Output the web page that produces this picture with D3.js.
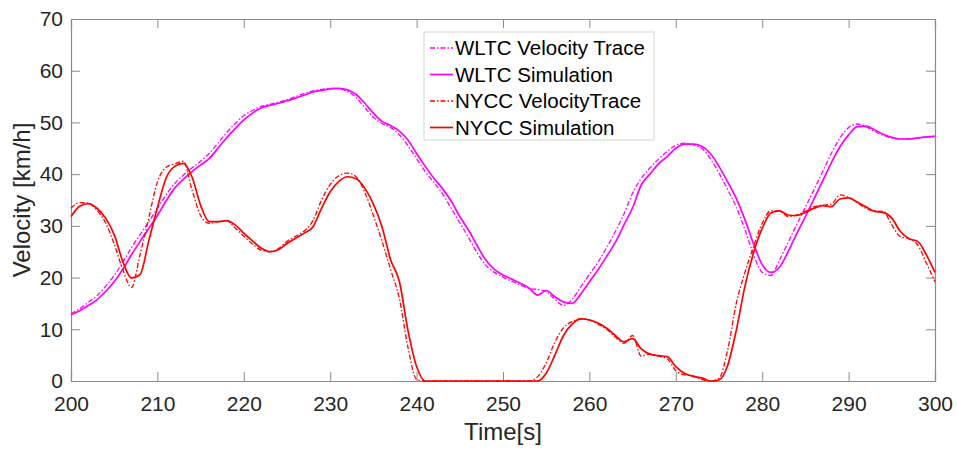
<!DOCTYPE html>
<html lang="en">
<head>
<meta charset="utf-8">
<script src="https://cdnjs.cloudflare.com/ajax/libs/d3/7.8.5/d3.min.js"></script>
<style>
  body { margin: 0; background: #ffffff; }
  svg { font-family: "Liberation Sans", Arial, sans-serif; }
</style>
</head>
<body>
<svg id="chart"></svg>
<script>
// time axis, one sample per second
var tStart = 200, tEnd = 300;
var xTicks = [200, 210, 220, 230, 240, 250, 260, 270, 280, 290, 300];
var yTicks = [0, 10, 20, 30, 40, 50, 60, 70];

// velocities in km/h, t = 200..300
var wltcTrace = [13.0,14.0,15.2,16.5,18.3,20.4,23.0,25.8,28.3,30.8,
  33.4,36.0,38.2,39.8,41.2,42.5,44.0,46.0,48.0,49.8,
  51.3,52.3,53.1,53.5,53.9,54.4,55.0,55.6,56.1,56.4,
  56.6,56.5,56.0,54.8,52.9,51.0,49.8,49.0,47.6,45.5,
  43.0,40.5,38.4,36.2,33.4,30.6,27.8,24.8,22.4,21.0,
  20.1,19.3,18.6,17.9,17.7,17.3,15.8,14.6,15.8,18.2,
  20.6,23.0,25.8,28.9,32.3,36.3,39.2,41.2,42.9,44.4,
  45.6,46.0,45.7,45.0,43.0,40.2,37.0,33.6,29.3,24.4,
  21.0,20.4,23.4,26.8,30.3,33.6,37.0,40.5,44.0,47.0,
  49.0,49.7,49.2,48.3,47.5,47.0,46.8,46.8,47.0,47.2,47.3];

var wltcSim = [12.8,13.6,14.6,15.7,17.3,19.2,21.6,24.4,27.0,29.5,
  32.0,34.8,37.3,39.0,40.5,41.8,43.0,45.0,47.0,48.8,
  50.5,51.8,52.8,53.3,53.7,54.2,54.7,55.3,55.9,56.2,
  56.5,56.6,56.3,55.4,53.7,51.8,50.2,49.4,48.3,46.6,
  44.0,41.5,39.2,37.2,34.8,31.8,29.2,26.2,23.4,21.6,
  20.5,19.7,18.9,18.0,16.6,17.5,16.3,15.3,15.0,16.8,
  19.2,21.5,24.1,26.8,30.2,33.5,37.9,40.0,42.0,43.4,
  45.0,45.8,45.8,45.4,44.0,41.5,38.5,35.3,31.2,26.5,
  22.5,21.0,22.0,25.0,28.5,31.8,35.2,38.7,42.2,45.3,
  47.6,49.2,49.3,48.6,47.7,47.1,46.8,46.8,47.0,47.2,47.3];

var nyccTrace = [33.4,34.5,34.4,33.0,30.6,26.5,21.5,18.1,24.5,31.5,
  38.5,41.3,42.0,42.5,37.0,32.0,30.5,30.8,31.0,29.6,
  28.0,26.5,25.3,25.0,25.6,27.0,28.0,29.0,31.0,35.0,
  38.0,39.7,40.2,39.5,36.5,32.0,27.0,21.5,16.0,6.5,
  0.3,0,0,0,0,0,0,0,0,0,
  0,0,0,0,0.8,3.5,7.5,10.3,11.5,12.0,
  11.8,11.0,10.0,8.5,7.3,8.8,4.8,5.2,4.8,4.3,
  2.0,1.2,1.0,0.3,0,0.5,6.0,15.0,21.0,26.0,
  30.5,32.9,32.9,31.8,32.1,32.8,33.7,34.0,34.2,36.0,
  35.5,34.5,33.4,32.9,32.8,30.2,27.9,27.5,26.3,22.8,19.2];

var nyccSim = [31.8,33.8,34.3,33.4,31.5,28.3,23.1,19.9,20.6,27.1,
  33.5,39.2,41.5,42.1,39.5,34.0,30.8,30.8,31.0,30.2,
  28.6,27.1,25.7,25.0,25.4,26.6,27.6,28.6,29.8,33.4,
  36.6,38.6,39.5,39.1,37.3,34.2,29.8,23.4,19.3,9.8,
  2.8,0,0,0,0,0,0,0,0,0,
  0,0,0,0,0,1.5,5.0,8.8,11.0,12.0,
  11.8,11.2,10.2,8.8,7.6,8.2,6.2,5.2,4.9,4.7,
  2.8,1.5,0.9,0.6,0,0.2,3.0,9.8,18.3,24.8,
  29.5,32.5,32.9,32.1,32.0,32.6,33.4,33.9,33.7,35.2,
  35.4,34.6,33.7,32.8,32.6,31.5,28.9,27.5,27.0,24.4,21.0];

var seriesNames = ["WLTC Velocity Trace", "WLTC Simulation", "NYCC VelocityTrace", "NYCC Simulation"];
var seriesData = [wltcTrace, wltcSim, nyccTrace, nyccSim];
var seriesColor = ["#ff00ff", "#ff00ff", "#ff0000", "#ff0000"];
var seriesDash = ["5,2,1.5,2", null, "5,2,1.5,2", null];

var width = 957, height = 450;
var margin = {left: 71, right: 22, top: 19, bottom: 69};

var svg = d3.select("#chart")
  .attr("width", width)
  .attr("height", height);

var x = d3.scaleLinear().domain([tStart, tEnd]).range([margin.left, width - margin.right]);
var y = d3.scaleLinear().domain([0, 70]).range([height - margin.bottom, margin.top]);

var time = d3.range(tStart, tEnd + 1);
var axisColor = "#8a8a8a";
var textColor = "#262626";
var tickLen = 9;

// axes (matlab style: ticks inside, box all around)
var xAxis = svg.append("g")
  .attr("transform", "translate(0," + y(0) + ")")
  .call(d3.axisBottom(x).tickValues(xTicks).tickSize(-tickLen).tickPadding(18).tickFormat(d3.format("d")));
var xTop = svg.append("g")
  .attr("transform", "translate(0," + y(70) + ")")
  .call(d3.axisTop(x).tickValues(xTicks).tickSize(-tickLen).tickFormat(""));
var yAxis = svg.append("g")
  .attr("transform", "translate(" + x(tStart) + ",0)")
  .call(d3.axisLeft(y).tickValues(yTicks).tickSize(-tickLen).tickPadding(8).tickFormat(d3.format("d")));
var yRight = svg.append("g")
  .attr("transform", "translate(" + x(tEnd) + ",0)")
  .call(d3.axisRight(y).tickValues(yTicks).tickSize(-tickLen).tickFormat(""));

[xAxis, xTop, yAxis, yRight].forEach(function(g) {
  g.select(".domain").attr("stroke", axisColor).attr("stroke-width", 1.2);
  g.selectAll(".tick line").attr("stroke", axisColor).attr("stroke-width", 1);
  g.selectAll(".tick text").attr("fill", textColor).style("font-size", "21px")
    .style("font-family", "'Liberation Sans', Arial, sans-serif");
});
xAxis.selectAll(".tick text").attr("dy", "0.55em");

// lines
var line = d3.line()
  .x(function(d, i) { return x(time[i]); })
  .y(function(d) { return y(d); })
  .curve(d3.curveMonotoneX);

seriesData.forEach(function(s, k) {
  svg.append("path")
    .datum(s)
    .attr("fill", "none")
    .attr("stroke", seriesColor[k])
    .attr("stroke-width", seriesDash[k] ? 1.3 : 1.7)
    .attr("stroke-dasharray", seriesDash[k])
    .attr("d", line);
});

// axis labels
svg.append("text")
  .attr("x", (x(tStart) + x(tEnd)) / 2)
  .attr("y", 440)
  .attr("text-anchor", "middle")
  .attr("fill", textColor)
  .style("font-size", "24px")
  .text("Time[s]");

svg.append("text")
  .attr("transform", "translate(30," + ((y(0) + y(70)) / 2) + ") rotate(-90)")
  .attr("text-anchor", "middle")
  .attr("fill", textColor)
  .style("font-size", "24px")
  .text("Velocity [km/h]");

// legend
var legend = svg.append("g").attr("transform", "translate(424,32)");
legend.append("rect")
  .attr("width", 230).attr("height", 108)
  .attr("fill", "#ffffff").attr("stroke", "#d4d4d4").attr("stroke-width", 1);

seriesNames.forEach(function(name, k) {
  var ly = 16 + k * 26.5;
  legend.append("line")
    .attr("x1", 6).attr("x2", 29).attr("y1", ly).attr("y2", ly)
    .attr("stroke", seriesColor[k])
    .attr("stroke-width", seriesDash[k] ? 1.3 : 1.7)
    .attr("stroke-dasharray", seriesDash[k]);
  legend.append("text")
    .attr("x", 31).attr("y", ly)
    .attr("dy", "0.36em")
    .attr("fill", "#000000")
    .style("font-size", "20.5px")
    .text(name);
});
</script>
</body>
</html>
